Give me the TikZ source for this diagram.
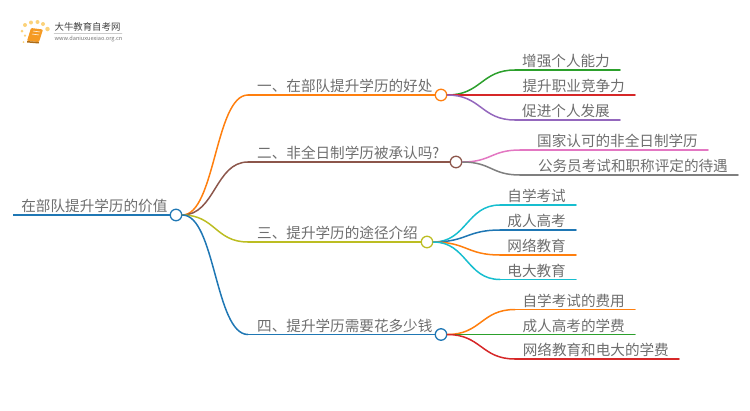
\documentclass[tikz,border=0pt]{standalone}
\usepackage{fontspec}
\setmainfont{Noto Sans CJK SC}
\usetikzlibrary{positioning,calc}
\definecolor{cOrange}{HTML}{FF7F0E}
\definecolor{cGreen}{HTML}{2CA02C}
\definecolor{cRed}{HTML}{D62728}
\definecolor{cPurple}{HTML}{9467BD}
\definecolor{cBrown}{HTML}{8C564B}
\definecolor{cPink}{HTML}{E377C2}
\definecolor{cGray}{HTML}{7F7F7F}
\definecolor{cOlive}{HTML}{BCBD22}
\definecolor{cCyan}{HTML}{17BECF}
\definecolor{cBlue}{HTML}{1F77B4}
\definecolor{cText}{HTML}{6E6E6E}
\definecolor{cBook}{HTML}{F59A23}
\definecolor{cDot}{HTML}{FBD27A}

\begin{document}
\begin{tikzpicture}[x=1pt,y=-1pt,line cap=round,
                    hub/.style={circle,draw,fill=white,line width=1.3pt,minimum size=11.5pt,inner sep=0pt},
                    txt/.style={inner sep=0pt,text=cText,font=\fontsize{14.6}{15}\selectfont,text height=12pt,text depth=1pt},
                    curve/.style={line width=1.5pt,to path={let \p1=(\tikztostart),\p2=(\tikztotarget) in
                        .. controls (\x1/2+\x2/2,\y1) and (\x1/2+\x2/2,\y2) .. (\p2)}},
                    stem/.style={line width=1.5pt},
                    dot/.style={circle,fill=cDot,inner sep=0pt,minimum size=#1}]
  \useasboundingbox (0,0) rectangle (750,410);

  % logo
  \node[dot=4pt] (d1) at (25,25) {};
  \node[dot=4pt] (d2) at (31,22.5) {};
  \node[dot=4pt] (d3) at (37.5,22) {};
  \node[dot=4pt] (d4) at (43,24) {};
  \node[dot=4.5pt] (d5) at (47.5,29) {};
  \node[dot=3pt] (d6) at (22,31) {};
  \node[dot=2.5pt] (d7) at (25,35.5) {};
  \node[dot=2pt] (d8) at (23.5,42) {};
  \fill[cBook,rounded corners=1pt] (31,28) -- (43,29.5) -- (39,42) -- (27,41) -- cycle;
  \draw[white,line width=.5pt] (33,31) -- (40,32) (32,34) -- (39,35);
  \fill[cBook!70!black] (27,41) -- (39,42) -- (38.5,43.5) -- (27,42.5) -- cycle;
  \node[inner sep=0pt,text=black!75,font=\fontsize{9.4}{10}\selectfont] (brand) at (87.5,27) {大牛教育自考网};
  \node[inner sep=0pt,text=black!55,font=\fontsize{5.6}{6}\selectfont] (site) at (88.5,38.5) {www.daniuxuexiao.org.cn};
  \coordinate (ruleL) at (54,33);
  \coordinate (ruleR) at (122,33);
  \draw[black!20,line width=.5pt] (ruleL) -- (ruleR);

  % root and branches
  \coordinate (rootS) at (13,215);
  \node[hub,draw=cBlue]   (R) at (176,215) {};
  \node[hub,draw=cOrange] (A) at (441,95) {};
  \node[hub,draw=cBrown]  (B) at (456,162) {};
  \node[hub,draw=cOlive]  (C) at (427,242) {};
  \node[hub,draw=cBlue]   (D) at (441,334.5) {};
  \coordinate (AS) at (248,95);
  \coordinate (BS) at (248,162);
  \coordinate (CS) at (248,242);
  \coordinate (DS) at (248,334.5);

  \draw[cBlue,line width=2.5pt,line cap=butt] (rootS) -- (R);
  \draw[cOrange,stem] (AS) -- (A);
  \draw[cBrown,stem] (BS) -- (B);
  \draw[cOlive,stem] (CS) -- (C);
  \draw[cBlue,stem] (DS) -- (D);
  \path (R.east) edge[curve,cOrange] (AS)
                 edge[curve,cBrown]  (BS)
                 edge[curve,cOlive]  (CS)
                 edge[curve,cBlue]   (DS);

  \node[txt,above left=2pt and 2pt of R.west]  (Rt) {在部队提升学历的价值};
  \node[txt,above right=2pt and 9pt of AS]     (At) {一、在部队提升学历的好处};
  \node[txt,above right=2pt and 9pt of BS]     (Bt) {二、非全日制学历被承认吗?};
  \node[txt,above right=2pt and 9pt of CS]     (Ct) {三、提升学历的途径介绍};
  \node[txt,above right=2pt and 9pt of DS]     (Dt) {四、提升学历需要花多少钱};

  % leaves
  \coordinate (A1s) at (515,70);    \coordinate (A1e) at (620,70);
  \coordinate (A2s) at (515,95);    \coordinate (A2e) at (635,95);
  \coordinate (A3s) at (515,120);   \coordinate (A3e) at (620,120);
  \coordinate (B1s) at (520,150);   \coordinate (B1e) at (708,150);
  \coordinate (B2s) at (520,175);   \coordinate (B2e) at (738,175);
  \coordinate (C1s) at (500,205);   \coordinate (C1e) at (576,205);
  \coordinate (C2s) at (500,230);   \coordinate (C2e) at (576,230);
  \coordinate (C3s) at (500,255);   \coordinate (C3e) at (576,255);
  \coordinate (C4s) at (500,279.5); \coordinate (C4e) at (576,279.5);
  \coordinate (D1s) at (515,309.5); \coordinate (D1e) at (635,309.5);
  \coordinate (D2s) at (515,334.5); \coordinate (D2e) at (635,334.5);
  \coordinate (D3s) at (515,359);   \coordinate (D3e) at (679,359);

  \path (A.east) edge[curve,cGreen]  (A1s)
                 edge[curve,cRed]    (A2s)
                 edge[curve,cPurple] (A3s)
        (B.east) edge[curve,cPink]   (B1s)
                 edge[curve,cGray]   (B2s)
        (C.east) edge[curve,cCyan]   (C1s)
                 edge[curve,cBlue]   (C2s)
                 edge[curve,cOrange] (C3s)
                 edge[curve,cCyan]   (C4s)
        (D.east) edge[curve,cOrange] (D1s)
                 edge[curve,cGreen]  (D2s)
                 edge[curve,cRed]    (D3s);

  \draw[stem,cGreen]  (A1s) -- (A1e);
  \draw[stem,cRed]    (A2s) -- (A2e);
  \draw[stem,cPurple] (A3s) -- (A3e);
  \draw[stem,cPink]   (B1s) -- (B1e);
  \draw[stem,cGray]   (B2s) -- (B2e);
  \draw[stem,cCyan]   (C1s) -- (C1e);
  \draw[stem,cBlue]   (C2s) -- (C2e);
  \draw[stem,cOrange] (C3s) -- (C3e);
  \draw[stem,cCyan]   (C4s) -- (C4e);
  \draw[stem,cOrange] (D1s) -- (D1e);
  \draw[stem,cGreen]  (D2s) -- (D2e);
  \draw[stem,cRed]    (D3s) -- (D3e);

  \node[txt,above left=2pt and 10pt of A1e] (A1t) {增强个人能力};
  \node[txt,above left=2pt and 10pt of A2e] (A2t) {提升职业竞争力};
  \node[txt,above left=2pt and 10pt of A3e] (A3t) {促进个人发展};
  \node[txt,above left=2pt and 10pt of B1e] (B1t) {国家认可的非全日制学历};
  \node[txt,above left=2pt and 10pt of B2e] (B2t) {公务员考试和职称评定的待遇};
  \node[txt,above left=2pt and 10pt of C1e] (C1t) {自学考试};
  \node[txt,above left=2pt and 10pt of C2e] (C2t) {成人高考};
  \node[txt,above left=2pt and 10pt of C3e] (C3t) {网络教育};
  \node[txt,above left=2pt and 10pt of C4e] (C4t) {电大教育};
  \node[txt,above left=2pt and 10pt of D1e] (D1t) {自学考试的费用};
  \node[txt,above left=2pt and 10pt of D2e] (D2t) {成人高考的学费};
  \node[txt,above left=2pt and 10pt of D3e] (D3t) {网络教育和电大的学费};
\end{tikzpicture}
\end{document}
